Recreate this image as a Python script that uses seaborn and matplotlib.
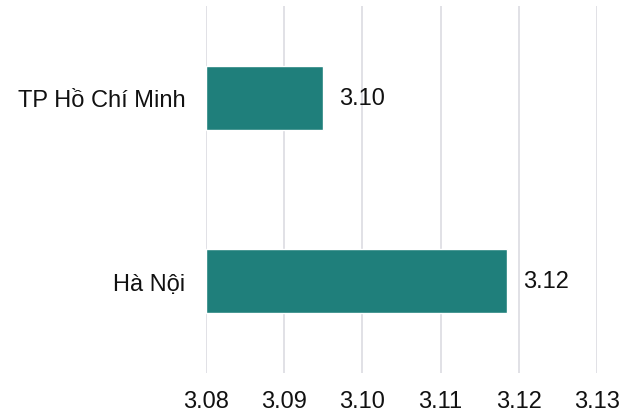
import matplotlib
matplotlib.use("Agg")
import matplotlib.pyplot as plt
import seaborn as sns
import pandas as pd

categories = ["TP Hồ Chí Minh", "Hà Nội"]
values = [3.0950, 3.1185]
labels = ["3.10", "3.12"]
xticks = [3.08, 3.09, 3.10, 3.11, 3.12, 3.13]

df = pd.DataFrame({"city": categories, "value": values})

sns.set_theme(style="white")
plt.rcParams["font.family"] = ["Liberation Sans", "DejaVu Sans"]

fig = plt.figure(figsize=(6.34, 4.14), dpi=100)
ax = fig.add_axes([0.325, 0.0966, 0.6166, 0.8864])

base = 3.08
sns.barplot(data=df.assign(delta=df["value"] - base), x="delta", y="city",
            color="#1f7f7b", saturation=1, width=0.35, left=base, ax=ax,
            orient="h")
ax.set_xlim(3.08, 3.13)
ax.set_ylim(1.5, -0.5)
ax.set_xticks(xticks)
ax.set_xticklabels([f"{t:.2f}" for t in xticks], fontsize=17, color="#111111")
ax.tick_params(axis="y", labelsize=17, colors="#111111", length=0, pad=15)
ax.tick_params(axis="x", length=0, pad=12.5)
ax.set_xlabel("")
ax.set_ylabel("")
ax.grid(axis="x", color="#dcdce2", linewidth=1.2)
ax.set_axisbelow(True)
for s in ax.spines.values():
    s.set_visible(False)

for i, (v, lab) in enumerate(zip(values, labels)):
    ax.text(v + 0.0020, i, lab, va="center", ha="left", fontsize=17, color="#111111")

fig.savefig("out.png", dpi=100)
